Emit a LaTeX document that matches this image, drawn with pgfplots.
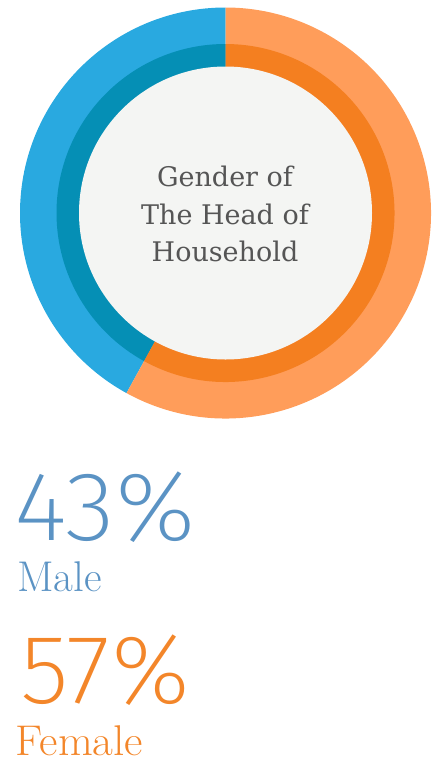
\documentclass[border=0pt]{standalone}
\usepackage{pgfplots}
\pgfplotsset{compat=1.18}
\usepackage{pgfplotstable}
\usepackage{fontspec}
\newfontfamily\slabfont{DejaVu Serif}
\IfFontExistsTF{Fira Sans ExtraLight}{\newfontfamily\thinfont{Fira Sans ExtraLight}}{%
 \IfFontExistsTF{Fira Sans Light}{\newfontfamily\thinfont{Fira Sans Light}}{%
  \IfFontExistsTF{Lato Light}{\newfontfamily\thinfont{Lato Light}}{%
   \IfFontExistsTF{Open Sans Light}{\newfontfamily\thinfont{Open Sans Light}}{%
    \newfontfamily\thinfont{Lato}}}}}
\definecolor{outerblue}{HTML}{29A9E0}
\definecolor{innerblue}{HTML}{058FB5}
\definecolor{outerorange}{HTML}{FF9D5A}
\definecolor{innerorange}{HTML}{F47F20}
\definecolor{centergray}{HTML}{F4F5F3}
\definecolor{labelgray}{HTML}{555555}
\definecolor{maletext}{HTML}{5B93C4}
\definecolor{femaletext}{HTML}{F3862A}
\pgfplotstableread{
group share
Male 42
Female 58
}\gendertable
\pgfplotstablegetelem{0}{share}\of\gendertable
\pgfmathsetmacro\splitangle{90+3.6*\pgfplotsretval}
\begin{document}
\begin{tikzpicture}
\path[use as bounding box] (0pt,0pt) rectangle (441pt,-761pt);
\begin{axis}[at={(225.5pt,-213pt)}, anchor=center, width=411pt, height=411pt,
  scale only axis, xmin=-205.5, xmax=205.5, ymin=-205.5, ymax=205.5, hide axis, clip=false]
  % outer ring
  \fill[outerblue] (axis cs:0,0) -- ++(90:205.5pt) arc[start angle=90, end angle=\splitangle, radius=205.5pt] -- cycle;
  \fill[outerorange] (axis cs:0,0) -- ++(\splitangle:205.5pt) arc[start angle=\splitangle, end angle=450, radius=205.5pt] -- cycle;
  % inner ring
  \fill[innerblue] (axis cs:0,0) -- ++(90:169pt) arc[start angle=90, end angle=\splitangle, radius=169pt] -- cycle;
  \fill[innerorange] (axis cs:0,0) -- ++(\splitangle:169pt) arc[start angle=\splitangle, end angle=450, radius=169pt] -- cycle;
  % centre
  \fill[centergray] (axis cs:0,0) circle[radius=146.5pt];
\end{axis}
\begin{scope}[every node/.style={inner sep=0pt, outer sep=0pt}]
\node[anchor=base, text=labelgray, font=\slabfont\fontsize{27}{34}\selectfont] at (225pt,-186.7pt) {Gender of};
\node[anchor=base, text=labelgray, font=\slabfont\fontsize{27}{34}\selectfont] at (225pt,-224pt) {The Head of};
\node[anchor=base, text=labelgray, font=\slabfont\fontsize{27}{34}\selectfont] at (225pt,-261pt) {Household};
\node[anchor=base west, xscale=1.05, text=maletext, font=\thinfont\fontsize{98}{110}\selectfont] at (15pt,-540pt) {43\%};
\node[anchor=base west, text=maletext, font=\fontsize{43}{50}\selectfont] at (17pt,-591.7pt) {Male};
\node[anchor=base west, xscale=1.03, text=femaletext, font=\thinfont\fontsize{98}{110}\selectfont] at (20pt,-703.3pt) {57\%};
\node[anchor=base west, xscale=1.05, text=femaletext, font=\fontsize{43}{50}\selectfont] at (16pt,-755pt) {Female};
\end{scope}
\end{tikzpicture}
\end{document}
